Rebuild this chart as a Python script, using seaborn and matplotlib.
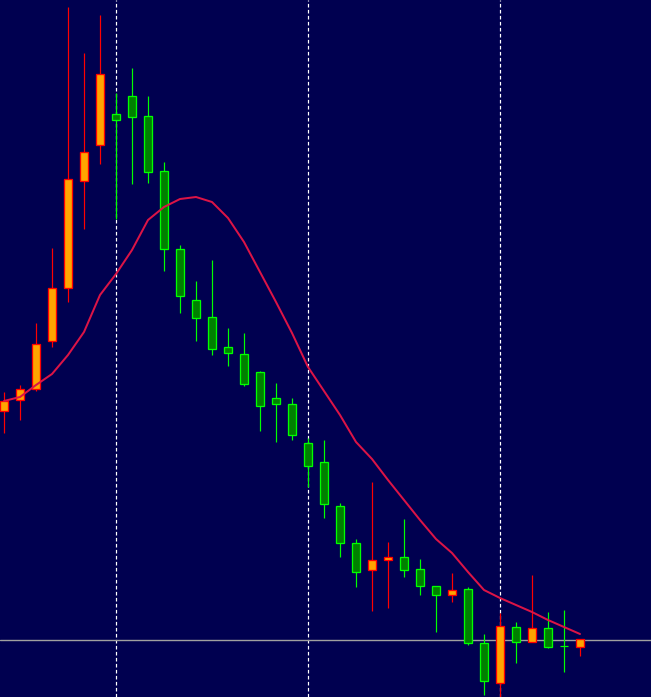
import numpy as np
import pandas as pd
import matplotlib
matplotlib.use("Agg")
import matplotlib.pyplot as plt
import seaborn as sns

# ---- data (price units) ----
opens  = [286, 297, 308, 356, 409, 516, 552, 583, 601, 581, 526, 448, 397, 380, 350, 343, 325, 299, 293,
          254, 235, 191, 154, 127, 137, 140, 128, 111, 102, 108, 54, 14, 70, 55, 69, 51, 50]
highs  = [305, 312, 374, 449, 690, 644, 682, 604, 629, 601, 535, 452, 416, 437, 369, 364, 326, 314, 299,
          259, 257, 194, 158, 215, 155, 178, 138, 111, 124, 110, 63, 84, 75, 122, 85, 87, 58]
lows   = [264, 277, 306, 350, 395, 468, 533, 478, 513, 514, 426, 384, 356, 342, 331, 311, 266, 255, 257,
          210, 179, 140, 110, 86, 89, 120, 102, 65, 95, 52, 2, 0, 34, 55, 49, 25, 41]
closes = [296, 308, 353, 409, 518, 545, 623, 577, 580, 525, 448, 401, 379, 348, 344, 313, 291, 293, 262,
          231, 193, 154, 125, 137, 140, 127, 111, 102, 107, 54, 16, 71, 55, 69, 50, 51, 58]
ma     = [296, 300, 312, 323, 342, 365, 402, 423, 447, 477, 490, 498, 500, 495, 479, 455, 425, 395, 364,
          330, 306, 282, 255, 238, 217, 197, 177, 158, 144, 125, 107, 99, 92, 85, 77, 70, 63]
separators = [7, 19, 31]
hline_level = 57.5

df = pd.DataFrame({"i": np.arange(len(opens)), "open": opens, "high": highs,
                   "low": lows, "close": closes, "ma": ma})

BG = "#000050"
UP_FILL, UP_EDGE = "#FFA500", "#FF0000"
DN_FILL, DN_EDGE = "#008000", "#00FF00"

sns.set_theme(style="white", rc={"axes.facecolor": BG, "figure.facecolor": BG})

fig = plt.figure(figsize=(6.51, 6.97), dpi=100)
ax = fig.add_axes([0, 0, 1, 1])
ax.set_facecolor(BG)

px = 0.72  # one pixel in points

# separators and horizontal level (behind candles)
for s in separators:
    ax.axvline(s, color="white", lw=1.2 * px, linestyle=(0, (3, 2)), zorder=1)
ax.axhline(hline_level, color="#A0A0A0", lw=1.4 * px, zorder=1)

# candles
for _, r in df.iterrows():
    up = r["close"] > r["open"]
    edge = UP_EDGE if up else DN_EDGE
    fill = UP_FILL if up else DN_FILL
    ax.vlines(r["i"], r["low"], r["high"], color=edge, lw=1.2 * px, zorder=2)
    lo, hi = min(r["open"], r["close"]), max(r["open"], r["close"])
    if hi - lo < 1:
        ax.hlines(lo, r["i"] - 0.28, r["i"] + 0.28, color=edge, lw=1.2 * px, zorder=3)
    else:
        ax.bar(r["i"], hi - lo, bottom=lo, width=0.56, color=fill,
               edgecolor=edge, linewidth=1.3 * px, zorder=3)

# moving average
sns.lineplot(data=df, x="i", y="ma", ax=ax, color="#DC1446", lw=2.0 * px, zorder=4)

ax.set_xlim(-0.25, 40.4375)
ax.set_ylim(0, 697)
ax.set_xticks([])
ax.set_yticks([])
ax.set_xlabel("")
ax.set_ylabel("")
for sp in ax.spines.values():
    sp.set_visible(False)

fig.savefig("out.png", dpi=100, facecolor=BG)
